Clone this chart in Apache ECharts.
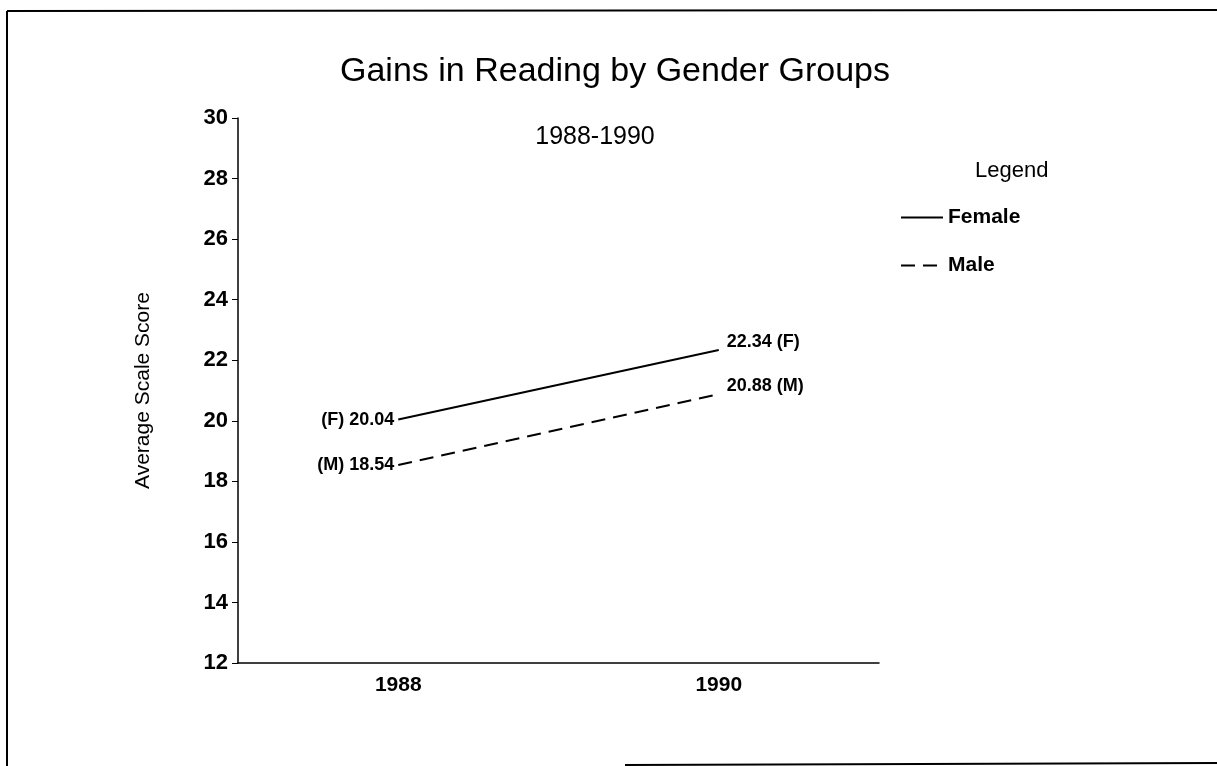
<!DOCTYPE html>
<html>
<head>
<meta charset="utf-8">
<script type="text/javascript" src="https://cdn.jsdelivr.net/npm/echarts@6/dist/echarts.min.js"></script>
<style type="text/css">
    * { margin: 0; padding: 0; }
    #container { width: 1217px; height: 766px; background: #fff; }
</style>
</head>
<body>
<div id="container"></div>
<script type="text/javascript">
var years = ['1988', '1990'];
var female = [20.04, 22.34];
var male = [18.54, 20.88];
var yTicks = [12, 30, 2]; // min, max, step

var font = '"Liberation Sans", Arial, sans-serif';
var chart = echarts.init(document.getElementById('container'));

// labels: left of first point, right of last point (a bit raised)
function withLabels(vals, tag) {
    return vals.map(function (v, i) {
        var first = i == 0;
        return {
            value: v,
            label: {
                show: true,
                position: first ? 'left' : 'right',
                distance: first ? 4 : 8,
                offset: first ? [0, 0] : [0, -8],
                formatter: first ? tag + ' ' + v.toFixed(2) : v.toFixed(2) + ' ' + tag
            }
        };
    });
}

var labelStyle = {
    color: '#000',
    fontFamily: font,
    fontSize: 18,
    fontWeight: 'bold'
};

var option = {
    backgroundColor: '#fff',
    animation: false,
    title: [
        {
            text: 'Gains in Reading by Gender Groups',
            left: 610, top: 50, textAlign: 'center',
            textStyle: { fontFamily: font, fontSize: 34, fontWeight: 'normal', color: '#000' }
        },
        {
            text: '1988-1990',
            left: 590, top: 120, textAlign: 'center',
            textStyle: { fontFamily: font, fontSize: 25, fontWeight: 'normal', color: '#000' }
        },
        {
            text: 'Legend',
            left: 970, top: 155,
            textStyle: { fontFamily: font, fontSize: 22, fontWeight: 'normal', color: '#000' }
        }
    ],
    legend: {
        orient: 'vertical',
        left: 895, top: 202,
        itemWidth: 42, itemHeight: 14, itemGap: 27,
        itemStyle: { opacity: 0 },
        textStyle: { fontFamily: font, fontSize: 21, fontWeight: 'bold', color: '#000' },
        data: ['Female', 'Male']
    },
    grid: { left: 238, right: 338, top: 118, bottom: 103 },
    xAxis: {
        type: 'category',
        data: years,
        boundaryGap: true,
        axisLine: { lineStyle: { color: '#000', width: 1.5 } },
        axisTick: { alignWithLabel: true, length: 6, lineStyle: { color: '#000' } },
        axisLabel: { color: '#000', fontFamily: font, fontSize: 21, fontWeight: 'bold', margin: 12 }
    },
    yAxis: {
        type: 'value',
        min: yTicks[0], max: yTicks[1], interval: yTicks[2],
        name: 'Average Scale Score',
        nameLocation: 'middle',
        nameGap: 84,
        nameTextStyle: { color: '#000', fontFamily: font, fontSize: 21 },
        axisLine: { show: true, lineStyle: { color: '#000', width: 1.5 } },
        axisTick: { show: true, length: 6, lineStyle: { color: '#000' } },
        axisLabel: { color: '#000', fontFamily: font, fontSize: 22, fontWeight: 'bold', margin: 10 },
        splitLine: { show: false }
    },
    series: [
        {
            name: 'Female',
            type: 'line',
            symbol: 'circle',
            symbolSize: 0.01,
            data: withLabels(female, '(F)'),
            lineStyle: { color: '#000', width: 2, type: 'solid' },
            itemStyle: { color: '#000' },
            label: labelStyle
        },
        {
            name: 'Male',
            type: 'line',
            symbol: 'circle',
            symbolSize: 0.01,
            data: withLabels(male, '(M)'),
            lineStyle: { color: '#000', width: 2, type: [14, 8] },
            itemStyle: { color: '#000' },
            label: labelStyle
        }
    ],
    graphic: [
        { type: 'line', shape: { x1: 7, y1: 11, x2: 1217, y2: 10 }, style: { stroke: '#000', lineWidth: 2 } },
        { type: 'line', shape: { x1: 7, y1: 11, x2: 7, y2: 766 }, style: { stroke: '#000', lineWidth: 2 } },
        { type: 'line', shape: { x1: 625, y1: 765, x2: 1217, y2: 763 }, style: { stroke: '#000', lineWidth: 2 } }
    ]
};

chart.setOption(option);
</script>
</body>
</html>
